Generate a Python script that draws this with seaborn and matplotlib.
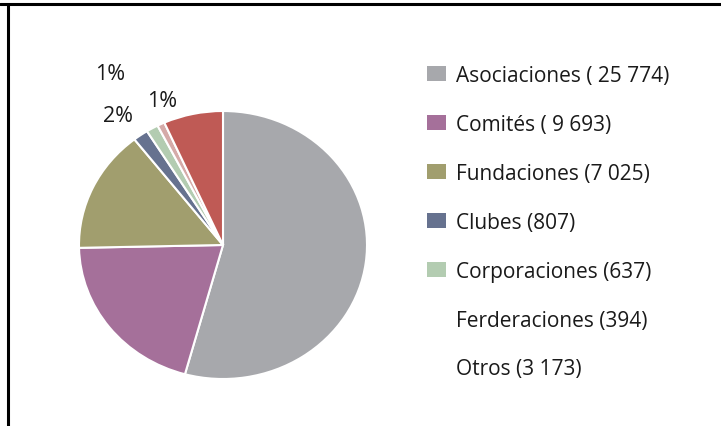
import numpy as np
import matplotlib
matplotlib.use("Agg")
import matplotlib.pyplot as plt
from matplotlib.lines import Line2D
from matplotlib.patches import Patch
import seaborn as sns

# data
categories = ["Asociaciones", "Comités", "Fundaciones", "Clubes",
              "Corporaciones", "Federaciones", "Otros"]
legend_labels = ["Asociaciones ( 25 774)", "Comités ( 9 693)", "Fundaciones (7 025)",
                 "Clubes (807)", "Corporaciones (637)", "Ferderaciones (394)",
                 "Otros (3 173)"]
counts = [25774, 9693, 7025, 807, 637, 394, 3173]
pct_labels = ["", "", "", "2%", "1%", "1%", ""]

colors = ["#a7a8ac", "#a5709a", "#a19e6e", "#66728f", "#b3ccb1", "#d5aaa8", "#bf5a55"]
legend_swatch = [True, True, True, True, True, False, False]
label_radius = [0, 0, 0, 1.21, 1.50, 1.16, 0]
label_shift = [0, 0, 0, 2, 2, -4, 0]   # degrees

sns.set_theme(style="white")
plt.rcParams["font.family"] = ["Open Sans", "DejaVu Sans"]
palette = sns.color_palette(colors)

fig = plt.figure(figsize=(7.21, 4.27), dpi=100)
ax = fig.add_axes([79 / 721, 47 / 427, 288 / 721, 268 / 427])

wedges, _ = ax.pie(counts, colors=palette, startangle=90, counterclock=False,
                   wedgeprops=dict(edgecolor="white", linewidth=1.5))
ax.set_aspect("auto")
ax.set_xlim(-1, 1)
ax.set_ylim(-1, 1)
ax.axis("off")

for w, lab, r, d in zip(wedges, pct_labels, label_radius, label_shift):
    if not lab:
        continue
    ang = np.deg2rad((w.theta1 + w.theta2) / 2 + d)
    ax.text(r * np.cos(ang), r * np.sin(ang), lab, ha="center", va="center",
            fontsize=15.5, color="#1a1a1a", clip_on=False)

handles = [Patch(facecolor=c if s else "none", edgecolor="none")
           for c, s in zip(palette, legend_swatch)]
fig.legend(handles, legend_labels, loc="upper left", bbox_to_anchor=(427 / 721, 1 - 66 / 427),
           frameon=False, fontsize=15, handlelength=0.91, handleheight=0.72,
           handletextpad=0.5, labelspacing=1.34, labelcolor="#1a1a1a",
           borderaxespad=0, borderpad=0)

# frame lines at the top and left of the picture
fig.add_artist(Line2D([0, 1], [1 - 5 / 427, 1 - 5 / 427], color="black", lw=2.2,
                      transform=fig.transFigure))
fig.add_artist(Line2D([8 / 721, 8 / 721], [0, 1 - 5 / 427], color="black", lw=2.2,
                      transform=fig.transFigure))

fig.savefig("out.png", dpi=100)
